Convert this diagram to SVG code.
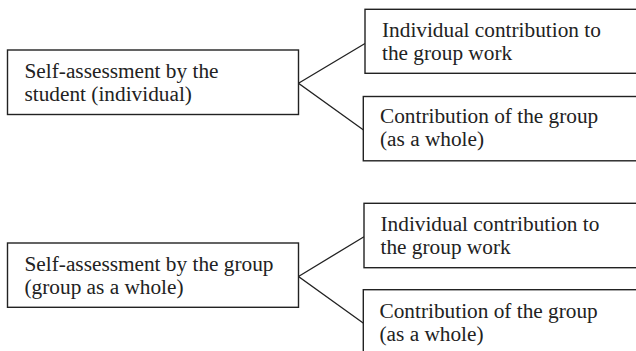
<svg xmlns="http://www.w3.org/2000/svg" width="636" height="351" viewBox="0 0 636 351">
<style>
.box{fill:#fff;stroke:#222;stroke-width:1.4}
.t{font-family:"Liberation Serif","Times New Roman",serif;font-size:21.3px;fill:#222}
.c{fill:none;stroke:#222;stroke-width:1.3}
</style>
<rect width="636" height="351" fill="#fff"/>
<g id="connectors">
<polyline class="c" points="365,43.5 298.5,83.3 363.5,130"/>
<polyline class="c" points="364,236.7 298.5,276.5 363.5,323.3"/>
</g>
<g id="self-student">
<rect class="box" x="7.5" y="50" width="291" height="64.5"/>
<text class="t" x="24.5" y="78">Self-assessment by the</text>
<text class="t" x="24.5" y="100.5">student (individual)</text>
</g>
<g id="top-individual">
<rect class="box" x="365" y="9.3" width="290" height="64"/>
<text class="t" x="382" y="37">Individual contribution to</text>
<text class="t" x="382" y="59.5">the group work</text>
</g>
<g id="top-group">
<rect class="box" x="363.3" y="96.5" width="290" height="64.3"/>
<text class="t" x="380" y="123">Contribution of the group</text>
<text class="t" x="380" y="146">(as a whole)</text>
</g>
<g id="self-group">
<rect class="box" x="7.5" y="243" width="291" height="64.3"/>
<text class="t" x="24.5" y="270.7">Self-assessment by the group</text>
<text class="t" x="24.5" y="293.5">(group as a whole)</text>
</g>
<g id="bottom-individual">
<rect class="box" x="364" y="203.3" width="290" height="64.4"/>
<text class="t" x="380.5" y="231">Individual contribution to</text>
<text class="t" x="380.5" y="254">the group work</text>
</g>
<g id="bottom-group">
<rect class="box" x="363.3" y="289.7" width="290" height="80"/>
<text class="t" x="379.5" y="317.5">Contribution of the group</text>
<text class="t" x="379.5" y="341">(as a whole)</text>
</g>
</svg>
